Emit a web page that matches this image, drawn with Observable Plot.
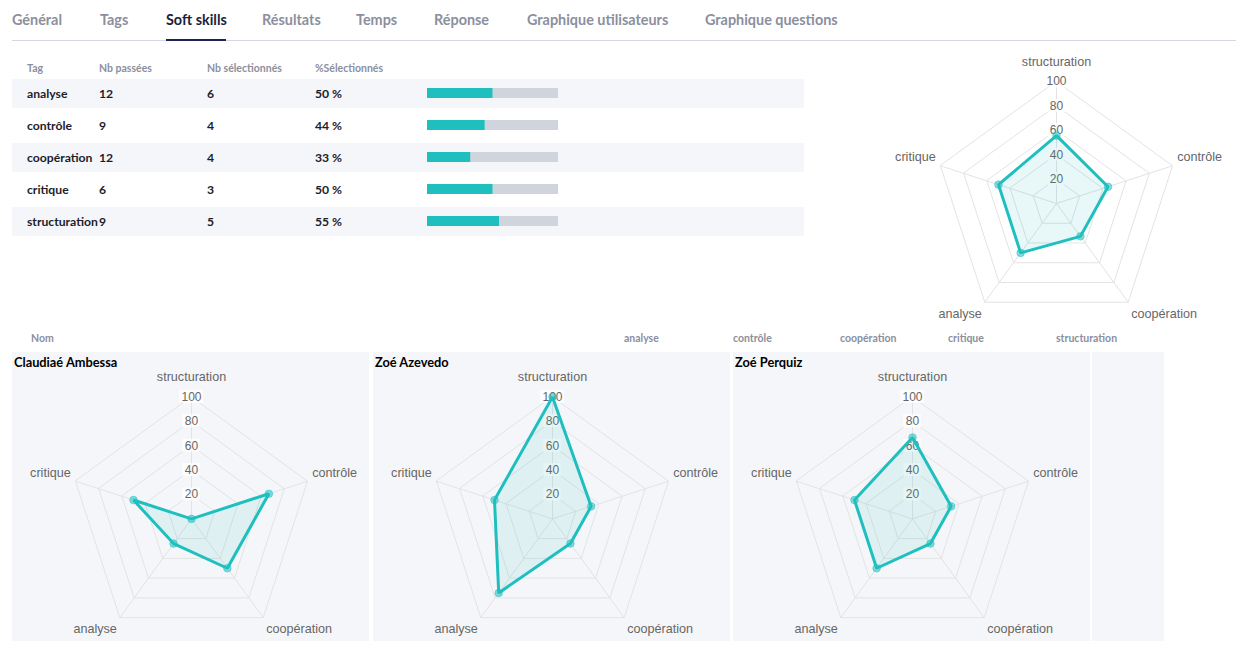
<!DOCTYPE html>
<html>
<head>
<meta charset="utf-8">
<script src="https://cdn.jsdelivr.net/npm/d3@7"></script>
<script src="https://cdn.jsdelivr.net/npm/@observablehq/plot@0.6"></script>
<style>
  html, body { margin: 0; padding: 0; background: #fff; }
  body { width: 1255px; height: 660px; position: relative; overflow: hidden; font-family: Lato, "Noto Sans", sans-serif; }
  .abs { position: absolute; }
  .tab { position: absolute; top: 11px; font-size: 14.4px; font-weight: 700; color: #8b8f9e; white-space: nowrap; line-height: 18px; }
  .tab.active { color: #1b1f3b; }
  .hdr { position: absolute; font-size: 10.5px; font-weight: 700; color: #8b8f9e; white-space: nowrap; line-height: 12px; }
  .row { position: absolute; left: 12px; width: 792px; height: 29px; }
  .row.shade { background: #f5f6fa; }
  .cell { position: absolute; top: 0; line-height: 29px; font-size: 12.2px; font-weight: 700; color: #1c1d2b; white-space: nowrap; }
  .card { position: absolute; top: 352px; height: 289px; background: #f5f6fa; }
  .name { position: absolute; left: 2px; top: 2px; font-size: 12.8px; font-weight: 700; color: #000; white-space: nowrap; }
  svg { overflow: visible; }
</style>
</head>
<body>
<script>
// ---------- data ----------
const tabs = ["Général", "Tags", "Soft skills", "Résultats", "Temps", "Réponse", "Graphique utilisateurs", "Graphique questions"];
const activeTab = "Soft skills";
const tableHeaders = ["Tag", "Nb passées", "Nb sélectionnés", "%Sélectionnés"];
const tags = ["analyse", "contrôle", "coopération", "critique", "structuration"];
const nbPassees = [12, 9, 12, 6, 9];
const nbSelectionnes = [6, 4, 4, 3, 5];
const pctSelectionnes = [50, 44, 33, 50, 55];

const radarAxes = ["structuration", "contrôle", "coopération", "analyse", "critique"];
const radarTicks = [20, 40, 60, 80, 100];
const globalScores = [55.6, 44.4, 33.3, 50, 50];

const userHeaders = ["Nom", "analyse", "contrôle", "coopération", "critique", "structuration"];
const users = ["Claudiaé Ambessa", "Zoé Azevedo", "Zoé Perquiz"];
const claudiaeScores = [0, 66.7, 50, 25, 50];
const azevedoScores = [100, 33.3, 25, 75, 50];
const perquizScores = [66.7, 33.3, 25, 50, 50];
const userScores = [claudiaeScores, azevedoScores, perquizScores];

// ---------- layout / style ----------
const TEAL = "#1fbfbf";
const body = document.body;
function el(tag, cls, parent, styleObj, text) {
  const e = document.createElement(tag);
  if (cls) e.className = cls;
  Object.assign(e.style, styleObj || {});
  if (text != null) e.textContent = text;
  (parent || body).appendChild(e);
  return e;
}

// tabs
const tabLeft = [12, 100, 166, 262, 356, 434, 527, 705];
tabs.forEach((t, i) => el("div", "tab" + (t === activeTab ? " active" : ""), body, {left: tabLeft[i] + "px"}, t));
el("div", "abs", body, {left: "12px", top: "40px", width: "1224px", height: "1px", background: "#d5d8df"});
el("div", "abs", body, {left: "166px", top: "39px", width: "60px", height: "2px", background: "#1b2656"});

// table
const colX = [27, 99, 207, 315];
tableHeaders.forEach((h, i) => el("div", "hdr", body, {left: colX[i] + "px", top: "62px"}, h));
const rowTop0 = 79, rowStep = 32.1;
tags.forEach((t, r) => {
  const row = el("div", "row" + (r % 2 === 0 ? " shade" : ""), body, {top: (rowTop0 + r * rowStep) + "px"});
  const vals = [t, nbPassees[r], nbSelectionnes[r], pctSelectionnes[r] + " %"];
  vals.forEach((v, c) => el("div", "cell", row, {left: (colX[c] - 12) + "px"}, String(v)));
});

// table bars (Plot)
const tableRows = tags.map((t, i) => ({tag: t, pct: pctSelectionnes[i]}));
const barsH = rowStep * tags.length;
const bars = Plot.plot({
  width: 131, height: barsH, margin: 0,
  x: {domain: [0, 100], axis: null},
  y: {domain: tags, axis: null, paddingInner: 0.69, paddingOuter: 0.345},
  style: {background: "transparent"},
  marks: [
    Plot.barX(tableRows, {y: "tag", x: () => 100, fill: "#d0d4dc"}),
    Plot.barX(tableRows, {y: "tag", x: "pct", fill: TEAL})
  ]
});
const barsWrap = el("div", "abs", body, {left: "427px", top: (rowTop0 + 14.5 - rowStep / 2) + "px"});
barsWrap.appendChild(bars);

// radar
const K = 1.22; // px per unit
function radar(values, width, height, cx, cy) {
  const n = radarAxes.length;
  const ang = i => 2 * Math.PI * i / n;
  const rings = radarTicks.flatMap(t => radarAxes.map((a, i) => ({ring: t, i})));
  const spokes = radarAxes.map((a, i) => ({i}));
  const series = radarAxes.map((a, i) => ({axis: a, i, v: values[i]}));
  const Rl = 127 / K;
  const labels = radarAxes.map((a, i) => {
    const c = Math.cos(ang(i));
    const off = c > 0.99 ? 15 : c > 0 ? 7 : -7.5;
    return {axis: a, i, x: Rl * Math.sin(ang(i)), y: Rl * c + off / K, s: Math.sin(ang(i))};
  });
  const tw = t => (String(t).length * 6.7 + 4) / K;
  return Plot.plot({
    width, height, margin: 0,
    x: {domain: [-cx / K, (width - cx) / K], axis: null},
    y: {domain: [-(height - cy) / K, cy / K], axis: null},
    style: {background: "transparent", fontFamily: "'Liberation Sans', Arial, sans-serif", fontSize: "12px", color: "#666"},
    marks: [
      Plot.line(rings, {x: d => d.ring * Math.sin(ang(d.i)), y: d => d.ring * Math.cos(ang(d.i)), z: "ring", curve: "linear-closed", stroke: "#e3e3e3", strokeWidth: 1}),
      Plot.link(spokes, {x1: () => 0, y1: () => 0, x2: d => 100 * Math.sin(ang(d.i)), y2: d => 100 * Math.cos(ang(d.i)), stroke: "#e3e3e3", strokeWidth: 1}),
      Plot.rect(radarTicks, {x1: d => -tw(d) / 2, x2: d => tw(d) / 2, y1: d => d - 6.5 / K, y2: d => d + 6.5 / K, fill: "white", fillOpacity: 0.75}),
      Plot.text(radarTicks, {x: () => 0, y: d => d, text: d => String(d), fill: "#666", fontSize: 12}),
      Plot.line(series, {x: d => d.v * Math.sin(ang(d.i)), y: d => d.v * Math.cos(ang(d.i)), curve: "linear-closed", fill: TEAL, fillOpacity: 0.1, stroke: TEAL, strokeWidth: 3, strokeLinejoin: "miter"}),
      Plot.dot(series, {x: d => d.v * Math.sin(ang(d.i)), y: d => d.v * Math.cos(ang(d.i)), r: 3.8, fill: TEAL, fillOpacity: 0.55, stroke: TEAL, strokeOpacity: 0.5, strokeWidth: 1}),
      Plot.text(labels, {filter: d => Math.abs(d.s) < 0.01, x: "x", y: "y", text: "axis", textAnchor: "middle", fill: "#666", fontSize: 12.6}),
      Plot.text(labels, {filter: d => d.s >= 0.01, x: "x", y: "y", text: "axis", textAnchor: "start", fill: "#666", fontSize: 12.6}),
      Plot.text(labels, {filter: d => d.s <= -0.01, x: "x", y: "y", text: "axis", textAnchor: "end", fill: "#666", fontSize: 12.6})
    ]
  });
}

// top-right radar
const topW = 380, topH = 300, topCx = 1055.7, topCy = 202.5;
const topWrap = el("div", "abs", body, {left: (topCx - topW / 2) + "px", top: (topCy - topH / 2) + "px"});
topWrap.appendChild(radar(globalScores, topW, topH, topW / 2, topH / 2));

// users header
const userHdrX = [31, 624, 733, 840, 948, 1056];
userHeaders.forEach((h, i) => el("div", "hdr", body, {left: userHdrX[i] + "px", top: "332px"}, h));

// user cards
const cardLeft = [12, 373, 733];
const cardW = 357, cardH = 289;
users.forEach((u, i) => {
  const card = el("div", "card", body, {left: cardLeft[i] + "px", width: cardW + "px"});
  const chart = radar(userScores[i], cardW, cardH, cardW / 2 + 0.5, 166.4);
  chart.style.position = "absolute";
  chart.style.left = "0px";
  chart.style.top = "0px";
  card.appendChild(chart);
  el("div", "name", card, {}, u);
});
el("div", "card", body, {left: "1092px", width: "72px"});
</script>
</body>
</html>
